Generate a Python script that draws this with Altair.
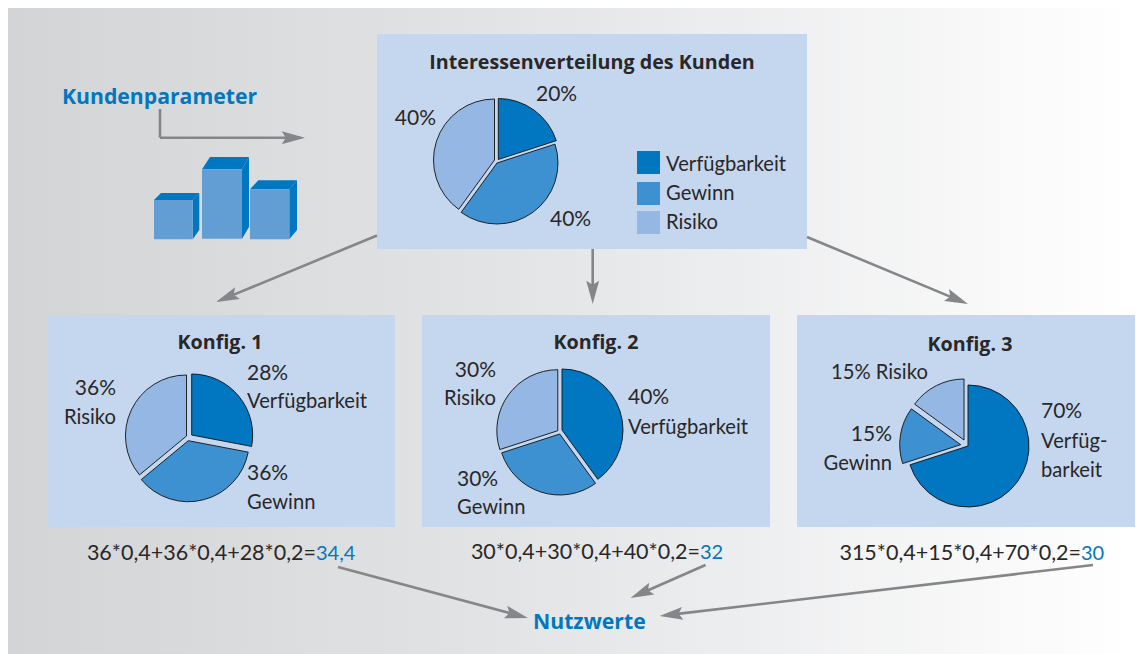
import math
import altair as alt
import pandas as pd

# ---- values -----------------------------------------------------------
slice_names = ["Verfügbarkeit", "Gewinn", "Risiko"]
kunde_values = [20, 40, 40]
konfig1_values = [28, 36, 36]
konfig2_values = [40, 30, 30]
konfig3_values = [70, 15, 15]
slice_colors = ["#0077c0", "#3d91d0", "#94b8e3"]

# ---- layout (page pixels) ----------------------------------------------
W, H = 1127, 646
XS = alt.Scale(domain=[8, 8 + W], range=[0, W])
YS = alt.Scale(domain=[8, 8 + H], range=[0, H])
AX = dict(scale=XS, axis=None, title=None)
AY = dict(scale=YS, axis=None, title=None)
FONT = "Open Sans"
BODY = "Lato"
INK = "#2a2728"
BLUE = "#0077c0"
GREY = "#85868a"

panels = pd.DataFrame({
    "x": [377, 47, 422, 797],
    "x2": [807, 395, 770, 8 + W],
    "y": [34, 315, 315, 315],
    "y2": [249, 527, 527, 527],
})

pie_centres = [
    (kunde_values, [(498.3, 159.5), (497, 163), (494.5, 160)]),
    (konfig1_values, [(191.7, 435), (188.3, 440.7), (186.5, 436)]),
    (konfig2_values, [(562, 430), (559.7, 434), (557.8, 430.7)]),
    (konfig3_values, [(968, 446), (960.7, 444.7), (964, 440)]),
]

rows = []
for values, centres in pie_centres:
    start = 0
    for name, v, (cx, cy) in zip(slice_names, values, centres):
        rows.append(dict(name=name, start=start, end=start + v, x=cx, y=cy))
        start += v
pies = pd.DataFrame(rows)

color_scale = alt.Scale(domain=slice_names, range=slice_colors)

bg = (
    alt.Chart(pd.DataFrame({"x": [8], "x2": [8 + W], "y": [8], "y2": [8 + H]}))
    .mark_rect(
        color=alt.Gradient(
            gradient="linear", x1=0, x2=1, y1=0, y2=0,
            stops=[
                alt.GradientStop(offset=0, color="#d3d4d6"),
                alt.GradientStop(offset=0.45, color="#e3e4e6"),
                alt.GradientStop(offset=1, color="#ffffff"),
            ],
        )
    )
    .encode(x=alt.X("x:Q", **AX), x2="x2:Q", y=alt.Y("y:Q", **AY), y2="y2:Q")
)

panel_layer = (
    alt.Chart(panels)
    .mark_rect(color="#c5d7ee")
    .encode(x=alt.X("x:Q", **AX), x2="x2:Q", y=alt.Y("y:Q", **AY), y2="y2:Q")
)

pie_layer = (
    alt.Chart(pies)
    .mark_arc(radius=61, stroke="#111111", strokeWidth=0.9)
    .encode(
        x=alt.X("x:Q", **AX),
        y=alt.Y("y:Q", **AY),
        theta=alt.Theta("start:Q", stack=False,
                        scale=alt.Scale(domain=[0, 100], range=[0, 2 * math.pi])),
        theta2="end:Q",
        color=alt.Color("name:N", scale=color_scale, legend=None),
    )
)

legend_df = pd.DataFrame({
    "name": slice_names,
    "x": [637, 637, 637], "x2": [660, 660, 660],
    "y": [151, 182, 211], "y2": [174, 205, 234],
})
legend_layer = (
    alt.Chart(legend_df)
    .mark_rect()
    .encode(x=alt.X("x:Q", **AX), x2="x2:Q", y=alt.Y("y:Q", **AY), y2="y2:Q",
            color=alt.Color("name:N", scale=color_scale, legend=None))
)

# ---- bar icon -----------------------------------------------------------
bar_front = pd.DataFrame({
    "x": [154, 202, 250], "x2": [192.7, 242, 289.3],
    "y": [200, 169.3, 189.3], "y2": [239.3, 238.7, 239.3],
})
front_layer = (
    alt.Chart(bar_front)
    .mark_rect(color="#629dd4")
    .encode(x=alt.X("x:Q", **AX), x2="x2:Q", y=alt.Y("y:Q", **AY), y2="y2:Q")
)
bar_faces = pd.DataFrame([
    # tops
    dict(f="t1", x=154, y=200, y2=200), dict(f="t1", x=161, y=193, y2=200),
    dict(f="t1", x=192.7, y=193, y2=200), dict(f="t1", x=199.3, y=193, y2=193),
    dict(f="t2", x=202, y=169.3, y2=169.3), dict(f="t2", x=210, y=157, y2=169.3),
    dict(f="t2", x=242, y=157, y2=169.3), dict(f="t2", x=249, y=157, y2=157),
    dict(f="t3", x=250, y=189.3, y2=189.3), dict(f="t3", x=258.3, y=180.3, y2=189.3),
    dict(f="t3", x=289.3, y=180.3, y2=189.3), dict(f="t3", x=297, y=180.3, y2=180.3),
    # sides
    dict(f="s1", x=192.7, y=200, y2=239.3), dict(f="s1", x=199.3, y=193, y2=230),
    dict(f="s2", x=242, y=169.3, y2=238.7), dict(f="s2", x=249, y=157, y2=227),
    dict(f="s3", x=289.3, y=189.3, y2=239.3), dict(f="s3", x=297, y=180.3, y2=230),
])
face_layer = (
    alt.Chart(bar_faces)
    .mark_area(color=BLUE, interpolate="linear")
    .encode(x=alt.X("x:Q", **AX), y=alt.Y("y:Q", **AY), y2="y2:Q", detail="f:N")
)

# ---- arrows -------------------------------------------------------------
arrow_ends = [
    (160, 137.7, 305, 137.7),
    (377, 235.5, 216, 302),
    (592.7, 249, 592.7, 304),
    (807, 237, 968, 304),
    (338, 567, 528, 618),
    (705.5, 565, 630.5, 598),
    (1093, 565, 659.6, 616),
]
HEAD = 15.0
shafts, heads = [], []
for x0, y0, x1, y1 in arrow_ends:
    d = math.hypot(x1 - x0, y1 - y0)
    ux, uy = (x1 - x0) / d, (y1 - y0) / d
    shafts.append(dict(x=x0, y=y0, x2=x1 - ux * 18, y2=y1 - uy * 18))
    heads.append(dict(x=x1 - ux * HEAD, y=y1 - uy * HEAD,
                      a=math.degrees(math.atan2(ux, -uy)) % 360))
shafts.append(dict(x=160, y=109, x2=160, y2=137.7))
shaft_layer = (
    alt.Chart(pd.DataFrame(shafts))
    .mark_rule(color=GREY, strokeWidth=2.6)
    .encode(x=alt.X("x:Q", **AX), x2="x2:Q", y=alt.Y("y:Q", **AY), y2="y2:Q")
)
head_layer = (
    alt.Chart(pd.DataFrame(heads))
    .mark_point(
        shape="M0,-1 L0.43,0.55 L0,0.28 L-0.43,0.55 Z",
        filled=True, color=GREY, opacity=1, size=(2 * HEAD) ** 2,
    )
    .encode(x=alt.X("x:Q", **AX), y=alt.Y("y:Q", **AY),
            angle=alt.Angle("a:Q", scale=None))
)

# ---- texts --------------------------------------------------------------
percent_left = [
    ("20%", 536, 95), ("40%", 550, 220),
    ("28%", 247, 374), ("36%", 247, 474),
    ("30%", 457, 480), ("40%", 628, 398), ("70%", 1041, 412),
]
percent_right = [
    ("40%", 436, 119), ("36%", 116, 389), ("30%", 496, 371), ("15%", 892, 435),
]
word_left = [
    ("Verfügbarkeit", 666, 165), ("Gewinn", 666, 194), ("Risiko", 666, 223),
    ("Verfügbarkeit", 247, 402), ("Gewinn", 247, 503),
    ("Gewinn", 457, 508), ("Verfügbarkeit", 628, 428),
    ("15% Risiko", 831, 373), ("Verfüg-", 1041, 442), ("barkeit", 1041, 471),
]
word_right = [("Risiko", 116, 418), ("Risiko", 496, 399), ("Gewinn", 892, 464)]
center_bold = [
    ("Interessenverteilung des Kunden", 592, 63),
    ("Konfig. 1", 220, 343), ("Konfig. 2", 596, 343), ("Konfig. 3", 970, 345),
]
formula_black = [
    ("36*0,4+36*0,4+28*0,2=", 316, 554),
    ("30*0,4+30*0,4+40*0,2=", 700, 553),
    ("315*0,4+15*0,4+70*0,2=", 1081, 554),
]
formula_blue = [("34,4", 316, 554), ("32", 700, 553), ("30", 1081, 554)]
blue_heads = [("Kundenparameter", 62, 98), ("Nutzwerte", 533, 623)]


def text_layer(items, font=FONT, **mark):
    df = pd.DataFrame(items, columns=["t", "x", "y"])
    return (
        alt.Chart(df)
        .mark_text(font=font, baseline="middle", **mark)
        .encode(x=alt.X("x:Q", **AX), y=alt.Y("y:Q", **AY), text="t:N")
    )


layers = [
    bg, panel_layer, shaft_layer, head_layer, face_layer, front_layer,
    pie_layer, legend_layer,
    text_layer(percent_left, font=BODY, align="left", fontSize=21, color=INK),
    text_layer(percent_right, font=BODY, align="right", fontSize=21, color=INK),
    text_layer(word_left, font=BODY, align="left", fontSize=20.2, color=INK),
    text_layer(word_right, font=BODY, align="right", fontSize=20.2, color=INK),
    text_layer(center_bold, align="center", fontSize=19.7, fontWeight="bold", color=INK),
    text_layer(formula_black, font=BODY, align="right", fontSize=21.5, color=INK),
    text_layer(formula_blue, font=BODY, align="left", fontSize=20, color=BLUE),
    text_layer(blue_heads, align="left", fontSize=21.2, fontWeight="bold", color=BLUE),
]

chart = (
    alt.layer(*layers)
    .properties(width=W, height=H, padding=0, autosize=alt.AutoSizeParams(type="none"))
    .configure_view(stroke=None)
)
chart.save("out.html", embed_options={"renderer": "svg", "actions": False})
